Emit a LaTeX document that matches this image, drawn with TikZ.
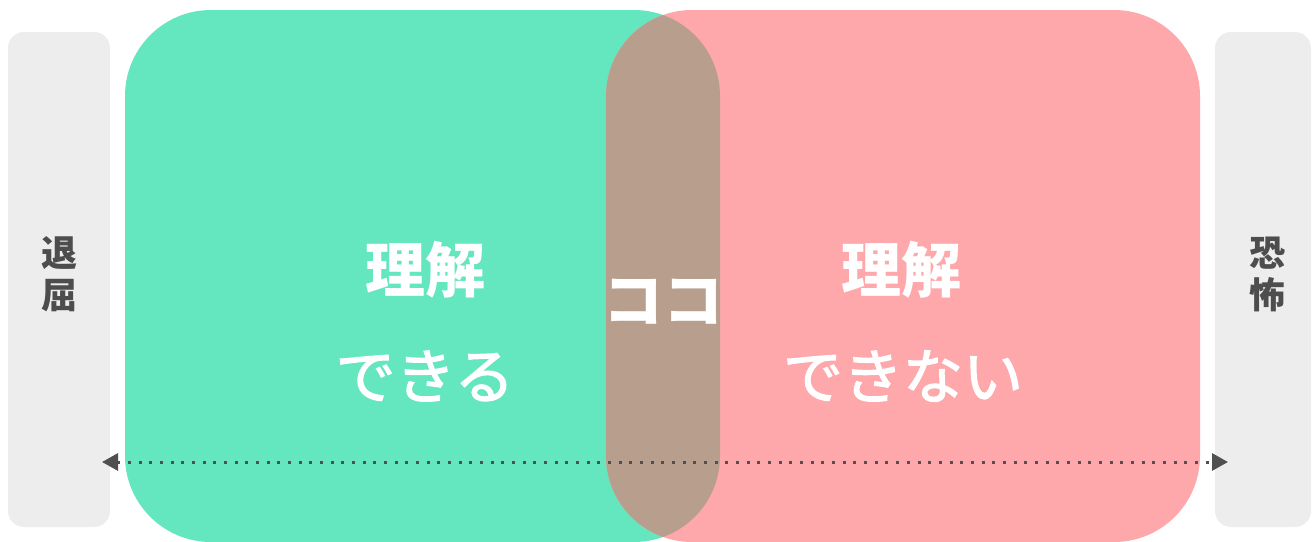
\documentclass[tikz,border=0pt]{standalone}
\usepackage{fontspec}
\setmainfont{Noto Sans CJK JP}
\newfontfamily\jp{Noto Sans CJK JP}
\newfontfamily\jpm[FakeBold=2]{Noto Sans CJK JP}
\usetikzlibrary{arrows.meta}
\definecolor{cgreen}{HTML}{64E6BF}
\definecolor{cpink}{HTML}{FEA8AB}
\definecolor{cbrown}{HTML}{B89F8D}
\definecolor{cbar}{HTML}{EDEDED}
\definecolor{ctext}{HTML}{4D4D4D}
\definecolor{cdot}{HTML}{505050}
\begin{document}
\begin{tikzpicture}[x=1pt,y=-1pt,
  sidebar/.style={fill=cbar,rounded corners=16pt},
  sidelabel/.style={text=ctext,font=\jp\bfseries\fontsize{36pt}{42pt}\selectfont,align=center,inner sep=0pt},
  biglabel/.style={text=white,font=\jp\bfseries\fontsize{60pt}{72pt}\selectfont,inner sep=0pt},
  sublabel/.style={text=white,font=\jpm\fontsize{60pt}{72pt}\selectfont,inner sep=0pt},
  flow/.style={draw=cdot,line width=3pt,dash pattern=on 3pt off 7.67pt,
    {Triangle[length=16pt,width=17pt,fill=cdot]}-{Triangle[length=16pt,width=17pt,fill=cdot]}}
]
\useasboundingbox (0,0) rectangle (1312,541);
% side bars
\fill[sidebar] (8,32) rectangle (110,527);
\fill[sidebar] (1215,32) rectangle (1311,527);
% green and pink regions
\fill[cgreen,rounded corners=86pt] (125,10) rectangle (720,542);
\fill[cpink,rounded corners=86pt] (606,10) rectangle (1200,542);
\begin{scope}
  \clip[rounded corners=86pt] (125,10) rectangle (720,542);
  \fill[cbrown,rounded corners=86pt] (606,10) rectangle (1200,542);
\end{scope}
% labels
\node[sidelabel] (bored) at (59,274) {退\\屈};
\node[sidelabel] (fear) at (1267,274) {恐\\怖};
\node[biglabel] (und1) at (425,270) {理解};
\node[sublabel] (can) at (425,376) {できる};
\node[biglabel] (koko) at (663,302) {ココ};
\node[biglabel] (und2) at (901,270) {理解};
\node[sublabel] (cannot) at (903,376) {できない};
% arrow
\coordinate (L) at (102,462);
\coordinate (R) at (1228,462);
\draw[flow] (L) -- (R);
\end{tikzpicture}
\end{document}
